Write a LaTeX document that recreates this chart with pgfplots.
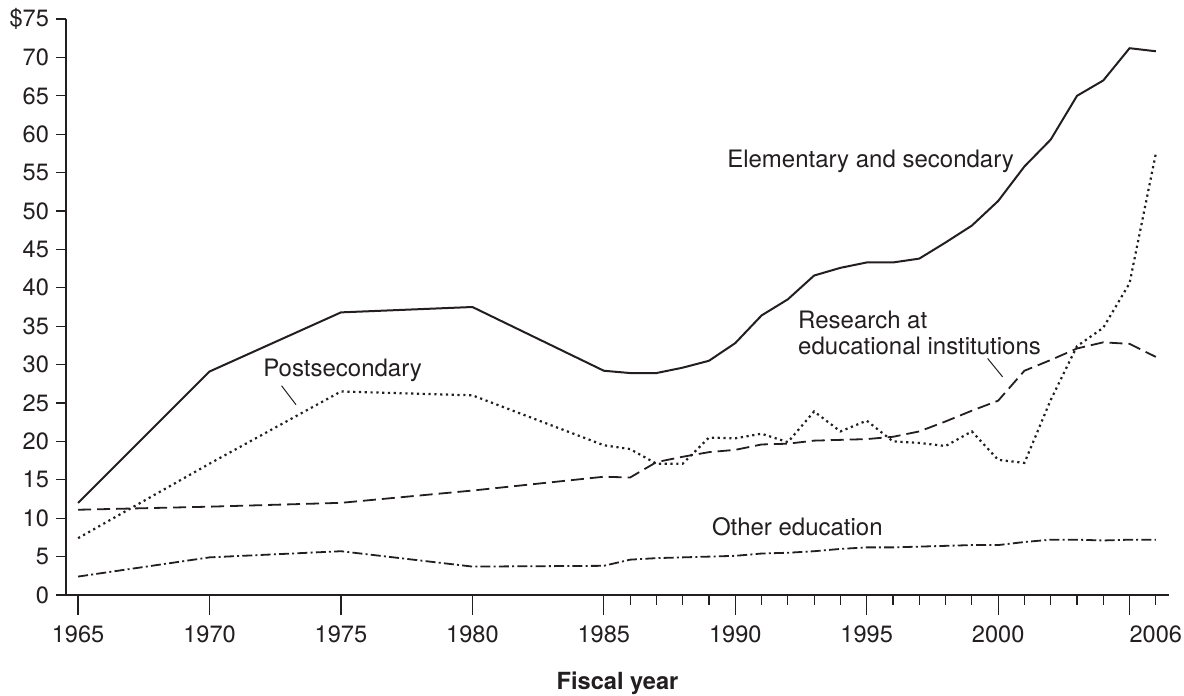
\documentclass[border=0pt]{standalone}
\usepackage{pgfplots}
\pgfplotsset{compat=1.18}
\usepackage{fontspec}
\setmainfont{TeX Gyre Heros}
\definecolor{ink}{HTML}{231F20}

\pgfplotstableread{
year elem post research other
1965 12.0 7.4 11.1 2.4
1970 29.1 17.1 11.5 4.9
1975 36.8 26.5 12.0 5.7
1980 37.5 26.0 13.6 3.7
1985 29.2 19.5 15.4 3.8
1986 28.9 19.0 15.3 4.6
1987 28.9 17.1 17.3 4.8
1988 29.6 17.1 18.0 4.9
1989 30.5 20.5 18.6 5.0
1990 32.8 20.4 18.9 5.1
1991 36.4 21.0 19.6 5.4
1992 38.5 19.9 19.7 5.5
1993 41.6 23.9 20.1 5.7
1994 42.6 21.3 20.2 6.0
1995 43.3 22.7 20.3 6.2
1996 43.3 20.0 20.6 6.2
1997 43.8 19.8 21.3 6.3
1998 45.9 19.4 22.6 6.4
1999 48.1 21.3 24.0 6.5
2000 51.3 17.6 25.3 6.5
2001 55.8 17.2 29.2 6.9
2002 59.3 25.4 30.6 7.2
2003 65.0 32.4 32.1 7.2
2004 67.0 34.8 32.9 7.1
2005 71.2 40.6 32.7 7.2
2006 70.8 57.5 31.0 7.2
}\datatable

\begin{document}
\begin{tikzpicture}
\path[use as bounding box] (-33pt,-50.5pt) rectangle (559pt,297.5pt);
\begin{axis}[
  at={(0,0)}, anchor=south west,
  scale only axis,
  width=551.5pt, height=288pt,
  xmin=1964.54, xmax=2006.5,
  ymin=0, ymax=75,
  axis x line=bottom, axis y line=left,
  axis line style={-, ink, line width=0.8pt},
  tick style={ink, line width=0.6pt},
  tick align=outside,
  major tick length=5pt,
  minor tick length=5pt,
  xtick={1965,1970,...,2000,2006},
  xticklabels={1965,1970,1975,1980,1985,1990,1995,2000,2006},
  minor xtick={1986,...,2004},
  extra x ticks={1965,1970,...,2005},
  extra x tick labels={,,,,,,,,},
  extra x tick style={major tick length=10pt},
  ytick={0,5,...,75},
  yticklabels={0,5,10,15,20,25,30,35,40,45,50,55,60,65,70,\$75},
  /pgf/number format/assume math mode=true,
  ticklabel style={font=\fontsize{11.8}{13}\selectfont, text=ink},
  xticklabel style={yshift=-7pt},
  xlabel={\textbf{Fiscal year}},
  xlabel style={at={(axis description cs:0.5,0)}, anchor=center, yshift=-44pt, font=\fontsize{11.8}{13}\selectfont, text=ink},
  clip=false,
]
\addplot[ink, line width=1pt, line join=round] table[x=year, y=elem] {\datatable};
\addplot[ink, line width=1.1pt, dash pattern=on 1.1pt off 1.8pt] table[x=year, y=post] {\datatable};
\addplot[ink, line width=0.9pt, dash pattern=on 6.5pt off 3pt] table[x=year, y=research] {\datatable};
\addplot[ink, line width=0.9pt, dash pattern=on 5pt off 1.6pt on 1pt off 1.6pt] table[x=year, y=other] {\datatable};

\node[anchor=west, inner sep=0pt, text=ink, font=\fontsize{12}{14}\selectfont] at (axis cs:1989.68,56.4) {Elementary and secondary};
\node[anchor=west, inner sep=0pt, text=ink, font=\fontsize{12}{14}\selectfont] at (axis cs:1992.38,35.8) {Research at};
\node[anchor=west, inner sep=0pt, text=ink, font=\fontsize{12}{14}\selectfont] at (axis cs:1992.38,32.4) {educational institutions};
\node[anchor=west, inner sep=0pt, text=ink, font=\fontsize{12}{14}\selectfont] at (axis cs:1972.03,29.2) {Postsecondary};
\node[anchor=west, inner sep=0pt, text=ink, font=\fontsize{12}{14}\selectfont] at (axis cs:1989.1,8.83) {Other education};
\draw[ink, line width=0.5pt] (axis cs:1999.6,30.8) -- (axis cs:2000.17,28.4);
\draw[ink, line width=0.5pt] (axis cs:1972.74,27.25) -- (axis cs:1973.29,24.78);
\end{axis}
\end{tikzpicture}
\end{document}
